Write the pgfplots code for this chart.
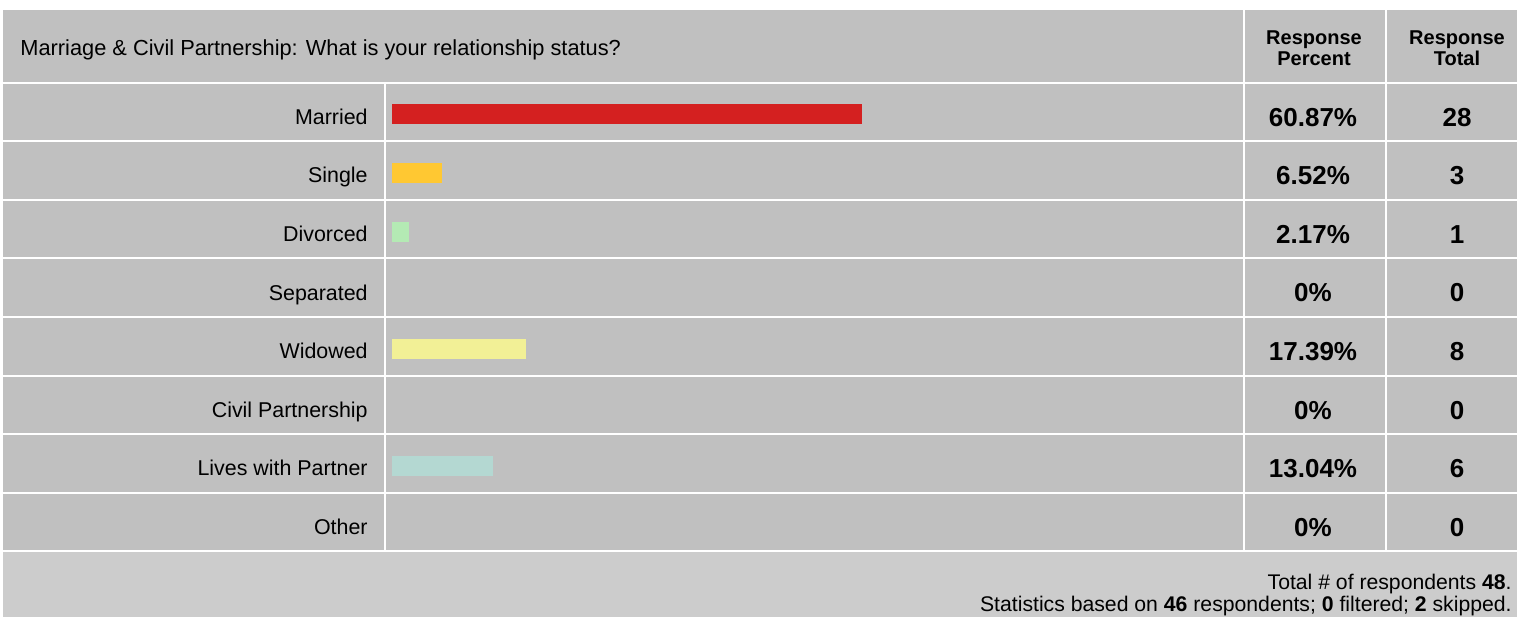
\documentclass[border=0pt]{standalone}
\usepackage{fontspec}
\setmainfont{Liberation Sans}
\usepackage{pgfplots}
\pgfplotsset{compat=1.18}
\definecolor{rowgray}{HTML}{C0C0C0}
\definecolor{footgray}{HTML}{CCCCCC}
\definecolor{cMarried}{RGB}{212,32,32}
\definecolor{cSingle}{RGB}{255,200,50}
\definecolor{cDivorced}{RGB}{180,234,180}
\definecolor{cWidowed}{RGB}{242,240,150}
\definecolor{cLives}{RGB}{180,216,210}
\begin{document}
\begin{tikzpicture}
\begin{scope}[x=0.5pt,y=-0.5pt]
\path[use as bounding box, fill=white] (0,0) rectangle (1517,617);
\fill[rowgray] (3,10) rectangle (1517,552);
\fill[footgray] (3,552) rectangle (1517,617);
\foreach \k in {0,...,8} \draw[white, line width=1pt] (3,{82.5+58.6*\k}) -- (1517,{82.5+58.6*\k});
\draw[white,line width=1pt] (385,82.5) -- (385,551.3);
\draw[white,line width=1pt] (1244,10) -- (1244,551.3);
\draw[white,line width=1pt] (1386,10) -- (1386,551.3);
\node[anchor=base west, font=\fontsize{10.9}{13}\selectfont, inner sep=0pt] at (20,55) {Marriage \& Civil Partnership: What is your relationship status?};
\node[align=center, font=\fontsize{10}{10.3}\selectfont\bfseries, inner sep=0pt] at (1314,48) {Response\\Percent};
\node[align=center, font=\fontsize{10}{10.3}\selectfont\bfseries, inner sep=0pt] at (1457,48) {Response\\Total};
\node[anchor=base east, font=\fontsize{10.6}{12}\selectfont, inner sep=0pt] at (1512,589) {Total \# of respondents \textbf{48}.};
\node[anchor=base east, font=\fontsize{10.6}{12}\selectfont, inner sep=0pt] at (1512,611) {Statistics based on \textbf{46} respondents; \textbf{0} filtered; \textbf{2} skipped.};
\end{scope}
\begin{axis}[
  at={(193pt,-276pt)}, anchor=south west,
  scale only axis, width=428.5pt, height=234.5pt,
  xmin=-0.777, xmax=110.23, ymin=-0.5, ymax=7.5,
  y dir=reverse, clip=false,
  axis line style={draw=none}, major tick length=0pt,
  xtick=\empty, ytick={0,...,7},
  yticklabels={Married,Single,Divorced,Separated,Widowed,Civil Partnership,Lives with Partner,Other},
  yticklabel style={anchor=base east, inner sep=0pt, xshift=-9pt, yshift=-5.9pt, font=\fontsize{10.7}{12}\selectfont},
]
\addplot[xbar, bar width=10pt, bar shift=-1pt, fill=cMarried, draw=none] coordinates {(60.87,0)};
\addplot[xbar, bar width=10pt, bar shift=-1pt, fill=cSingle, draw=none] coordinates {(6.52,1)};
\addplot[xbar, bar width=10pt, bar shift=-1pt, fill=cDivorced, draw=none] coordinates {(2.17,2)};
\addplot[xbar, bar width=10pt, bar shift=-1pt, fill=cWidowed, draw=none] coordinates {(17.39,4)};
\addplot[xbar, bar width=10pt, bar shift=-1pt, fill=cLives, draw=none] coordinates {(13.04,6)};
\addplot[draw=none, mark=none, nodes near coords, point meta=explicit symbolic,
  every node near coord/.append style={anchor=base, yshift=-6.85pt, inner sep=0pt, font=\fontsize{13}{15}\selectfont\bfseries, text=black}]
  coordinates {(119.3,0) [60.87\%] (119.3,1) [6.52\%] (119.3,2) [2.17\%] (119.3,3) [0\%]
               (119.3,4) [17.39\%] (119.3,5) [0\%] (119.3,6) [13.04\%] (119.3,7) [0\%]};
\addplot[draw=none, mark=none, nodes near coords, point meta=explicit symbolic,
  every node near coord/.append style={anchor=base, yshift=-6.85pt, inner sep=0pt, font=\fontsize{13}{15}\selectfont\bfseries, text=black}]
  coordinates {(137.95,0) [28] (137.95,1) [3] (137.95,2) [1] (137.95,3) [0]
               (137.95,4) [8] (137.95,5) [0] (137.95,6) [6] (137.95,7) [0]};
\end{axis}
\end{tikzpicture}
\end{document}
